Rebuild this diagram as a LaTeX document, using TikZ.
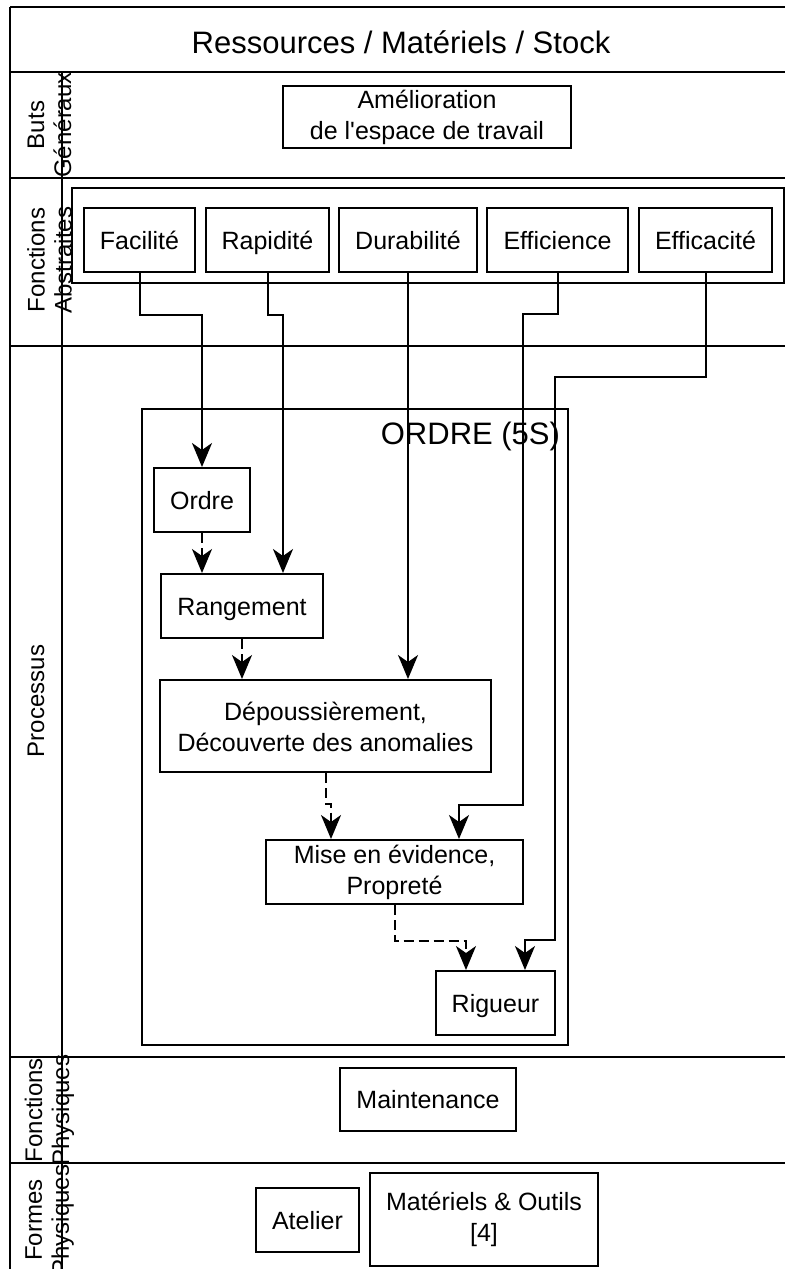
\documentclass[tikz,border=0pt]{standalone}
\usepackage{fontspec}
\setmainfont{Liberation Sans}
\usetikzlibrary{arrows.meta}
\begin{document}
\begin{tikzpicture}[x=1pt,y=-1pt,line width=2pt,
  box/.style={draw,rectangle,inner sep=0pt,align=center,font=\fontsize{25}{31}\selectfont},
  one/.style={text height=18pt,text depth=0pt},
  lanelbl/.style={rotate=90,align=center,inner sep=0pt,font=\fontsize{24}{27}\selectfont},
  arr/.style={-{Stealth[length=24pt,width=20pt,inset=7pt]}},
  darr/.style={arr,dash pattern=on 10pt off 5pt}]
\useasboundingbox (0,0) rectangle (785,1269);
% frame and lanes
\draw (10,7) -- (785,7);
\draw (10,7) -- (10,1269);
\draw (62,72) -- (62,1269);
\foreach \yy in {72,178,346,1057,1163} \draw (10,\yy) -- (785,\yy);
% header
\node[font=\fontsize{31}{36}\selectfont] (title) at (401,42) {Ressources / Matériels / Stock};
% lane labels
\node[lanelbl] (l1) at (49.5,125) {Buts\\Généraux};
\node[lanelbl] (l2) at (49.5,260) {Fonctions\\Abstraites};
\node[lanelbl] (l3) at (36,701) {Processus};
\node[lanelbl] (l4) at (49.5,1110) {Fonctions\\Physiques};
\node[lanelbl] (l5) at (49.5,1220) {Formes\\Physiques};
% buts
\node[box,minimum width=288pt,minimum height=62pt] (buts) at (427,117) {\rule{0pt}{20pt}Amélioration\\de l\textquotesingle espace de travail};
% fonctions abstraites
\node[draw,rectangle,minimum width=712pt,minimum height=95pt] (abs) at (428,235.5) {};
\node[box,one,minimum width=111pt,minimum height=64pt] (fac) at (139.5,240) {Facilité};
\node[box,one,minimum width=123pt,minimum height=64pt] (rap) at (267.5,240) {Rapidité};
\node[box,one,minimum width=138pt,minimum height=64pt] (dur) at (408,240) {Durabilité};
\node[box,one,minimum width=141pt,minimum height=64pt] (effi) at (557.5,240) {Efficience};
\node[box,one,minimum width=133pt,minimum height=64pt] (effa) at (705.5,240) {Efficacité};
% processus
\node[draw,rectangle,minimum width=426pt,minimum height=636pt] (o5s) at (355,727) {};
\node[anchor=east,inner sep=0pt,font=\fontsize{31}{36}\selectfont] (o5stitle) at (561,436) {ORDRE (5S)};
\node[box,one,minimum width=96pt,minimum height=64pt] (ordre) at (202,500) {Ordre};
\node[box,one,minimum width=162pt,minimum height=64pt] (rang) at (242,606) {Rangement};
\node[box,minimum width=331pt,minimum height=92pt] (dep) at (325.5,726) {\rule{0pt}{20pt}Dépoussièrement,\\Découverte des anomalies};
\node[box,minimum width=257pt,minimum height=64pt] (mise) at (394.5,872) {\rule{0pt}{20pt}Mise en évidence,\\Propreté};
\node[box,one,minimum width=119pt,minimum height=64pt] (rig) at (495.5,1003) {Rigueur};
% fonctions physiques / formes physiques
\node[box,one,minimum width=176pt,minimum height=63pt] (maint) at (428,1099.5) {Maintenance};
\node[box,one,minimum width=103pt,minimum height=64pt] (atel) at (307.5,1220) {Atelier};
\node[box,minimum width=228pt,minimum height=93pt] (mat) at (484,1219.5) {Matériels \& Outils\\{}[4]};
% waypoints
\coordinate (c1) at (555,377);
\coordinate (c2) at (555,940);
\coordinate (c3) at (523,314);
\coordinate (c4) at (523,805);
% connectors
\draw[arr] (fac.south) -- ++(0,42) -| (ordre.north);
\draw[arr] (rap.south) -- ++(0,42) -| ([xshift=41pt]rang.north);
\draw[arr] (dur.south) -- ([xshift=82.5pt]dep.north);
\draw[arr] (effi.south) |- (c3) -- (c4) -| ([xshift=64.5pt]mise.north);
\draw[arr] (effa.south) |- (c1) -- (c2) -| ([xshift=29.5pt]rig.north);
\draw[darr] (ordre.south) -- ([xshift=-40pt]rang.north);
\draw[darr] (rang.south) -- (rang.south |- dep.north);
\draw[darr] (dep.south) -- ++(0,31) -| ([xshift=-63.5pt]mise.north);
\draw[darr] (mise.south) -- ++(0,36) -| ([xshift=-29.5pt]rig.north);
\end{tikzpicture}
\end{document}
